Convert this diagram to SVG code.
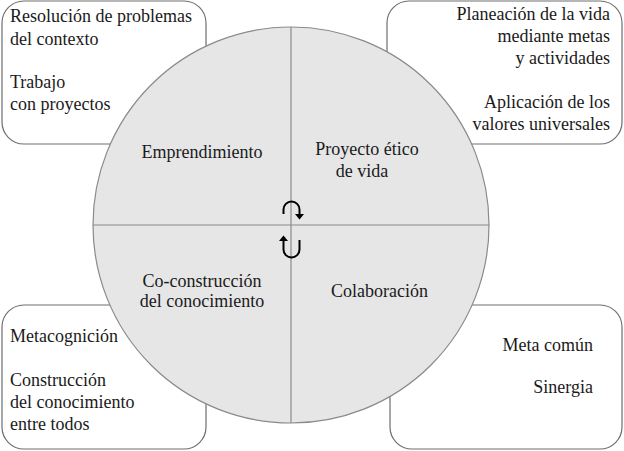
<svg xmlns="http://www.w3.org/2000/svg" width="624" height="451" viewBox="0 0 624 451">
<style>
.box{fill:#ffffff;stroke:#6e6e6e;stroke-width:1.2}
.t{font-family:'Liberation Serif','DejaVu Serif','Times New Roman',serif;font-size:18px;fill:#1a1a1a}
.r{text-anchor:end}
.m{text-anchor:middle}
.ax{fill:none;stroke:#8a8a8a;stroke-width:1.2}
.arr{fill:none;stroke:#000;stroke-width:2}
</style>
<rect width="624" height="451" fill="#ffffff"/>
<g id="box-tl">
<rect class="box" x="2" y="1" width="204" height="143" rx="22"/>
<text class="t" x="10" y="22" font-family="Liberation Serif, serif">Resolución de problemas</text>
<text class="t" x="10" y="45">del contexto</text>
<text class="t" x="10" y="88">Trabajo</text>
<text class="t" x="10" y="110">con proyectos</text>
</g>
<g id="box-tr">
<rect class="box" x="387" y="1" width="235" height="143" rx="22"/>
<text class="t r" x="610" y="20">Planeación de la vida</text>
<text class="t r" x="610" y="42">mediante metas</text>
<text class="t r" x="610" y="64">y actividades</text>
<text class="t r" x="610" y="108">Aplicación de los</text>
<text class="t r" x="610" y="130">valores universales</text>
</g>
<g id="box-bl">
<rect class="box" x="2" y="305" width="204" height="144" rx="22"/>
<text class="t" x="10" y="342">Metacognición</text>
<text class="t" x="10" y="386">Construcción</text>
<text class="t" x="10" y="408">del conocimiento</text>
<text class="t" x="10" y="430">entre todos</text>
</g>
<g id="box-br">
<rect class="box" x="390" y="305" width="232" height="144" rx="22"/>
<text class="t r" x="593" y="351">Meta común</text>
<text class="t r" x="593" y="393">Sinergia</text>
</g>
<g id="circle">
<circle cx="291" cy="225" r="198" fill="#e6e6e7" stroke="#8a8a8a" stroke-width="1.2"/>
</g>
<g id="connectors">
<line class="ax" x1="93" y1="225" x2="489" y2="225"/>
<line class="ax" x1="291" y1="27" x2="291" y2="423"/>
<path class="arr" d="M283.5,214 V209.5 A8,8 0 0 1 299.5,209.5 V214"/>
<polygon points="295,214 304,214 299.5,219.5" fill="#000"/>
<path class="arr" d="M299.5,240 V249.5 A8,8 0 0 1 283.5,249.5 V241"/>
<polygon points="279,241 288,241 283.5,235.5" fill="#000"/>
</g>
<g id="q-emprendimiento">
<text class="t m" x="202" y="158">Emprendimiento</text>
</g>
<g id="q-proyecto">
<text class="t m" x="367" y="155">Proyecto ético</text>
<text class="t m" x="362" y="177">de vida</text>
</g>
<g id="q-coconstruccion">
<text class="t m" x="202" y="287">Co-construcción</text>
<text class="t m" x="202" y="307">del conocimiento</text>
</g>
<g id="q-colaboracion">
<text class="t" x="331" y="297">Colaboración</text>
</g>
</svg>
